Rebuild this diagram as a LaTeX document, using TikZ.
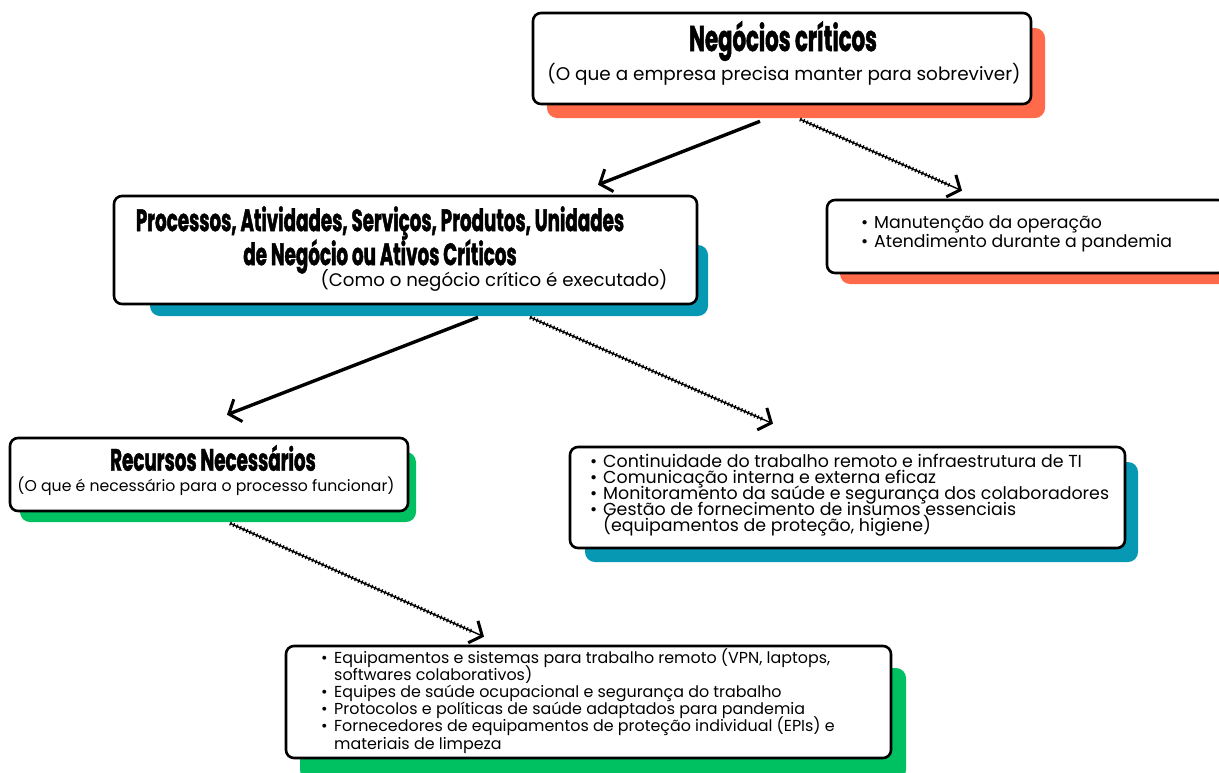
\documentclass[tikz,border=0pt]{standalone}
\usepackage{fontspec}
\setmainfont{Poppins}
\newfontfamily\titlefont{Poppins}[FakeStretch=0.59, FakeBold=1.3]
\usetikzlibrary{arrows.meta}
\definecolor{coral}{HTML}{FF6B4A}
\definecolor{tealblue}{HTML}{0799B4}
\definecolor{leafgreen}{HTML}{00C162}
\newcommand\itemdot{\makebox[13pt][l]{•}}
\newcommand\tightlines{\setlength{\lineskiplimit}{-10pt}\setlength{\lineskip}{0pt}}
\begin{document}
\begin{tikzpicture}[x=1pt,y=-1pt,
  box/.style={draw=black, line width=2.6pt, rounded corners=8pt, fill=white, inner sep=0pt},
  shade/.style={rounded corners=10pt},
  ttl/.style={font=\titlefont\bfseries\fontsize{36}{32}\selectfont, inner sep=0pt, align=center},
  sub/.style={inner sep=0pt},
  lst/.style={inner sep=0pt, align=left, anchor=north west},
  solidarrow/.style={line width=3.4pt, -{Straight Barb[length=10pt,width=24pt,line width=3pt]}},
  tickarrow/.style={line width=1.4pt, -{Straight Barb[length=10pt,width=24pt,line width=3pt]},
    postaction={draw, -, line width=4pt, dash pattern=on 1.2pt off 2.4pt, shorten >=12pt}}
]
\useasboundingbox (0,0) rectangle (1219,772);

% coloured offsets behind the boxes
\fill[coral, shade] (547,28) rectangle (1045,118);
\fill[tealblue, shade] (150,245) rectangle (708,316);
\fill[coral, shade] (840,214) rectangle (1230,284);
\fill[leafgreen, shade] (20,452) rectangle (416,522);
\fill[tealblue, shade] (585,462) rectangle (1138,562);
\fill[leafgreen, shade] (300,668) rectangle (906,780);

% boxes
\node[box, minimum width=498pt, minimum height=91pt] (neg) at (782,58.5) {};
\node[box, minimum width=583pt, minimum height=108pt] (proc) at (405.5,250) {};
\node[box, minimum width=399pt, minimum height=73pt] (man) at (1026.5,236.5) {};
\node[box, minimum width=398pt, minimum height=73pt] (rec) at (209,474.5) {};
\node[box, minimum width=555pt, minimum height=101pt] (cont) at (847.5,497.5) {};
\node[box, minimum width=605pt, minimum height=112pt] (equip) at (588.5,702) {};

% texts
\node[ttl] (negT) at (783,41) {Negócios críticos};
\node[sub, font=\fontsize{18.4}{22}\selectfont] (negS) at (784,74) {(O que a empresa precisa manter para sobreviver)};

\node[ttl, font=\titlefont\bfseries\fontsize{31}{32}\selectfont\tightlines] (procT) at (380,240)
  {Processos, Atividades, Serviços, Produtos, Unidades\\[2pt]de Negócio ou Ativos Críticos};
\node[sub, font=\fontsize{18.2}{22}\selectfont] (procS) at (494,280) {(Como o negócio crítico é executado)};

\node[lst, font=\fontsize{17.3}{19}\selectfont] (manL) at (861,215)
  {\itemdot Manutenção da operação\\\itemdot Atendimento durante a pandemia};

\node[ttl, font=\titlefont\bfseries\fontsize{31}{30}\selectfont] (recT) at (213,458) {Recursos Necessários};
\node[sub, font=\fontsize{15.7}{20}\selectfont] (recS) at (206,486) {(O que é necessário para o processo funcionar)};

\node[lst, font=\fontsize{17.4}{16}\selectfont\tightlines] (contL) at (590,454)
  {\itemdot Continuidade do trabalho remoto e infraestrutura de TI\\
   \itemdot Comunicação interna e externa eficaz\\
   \itemdot Monitoramento da saúde e segurança dos colaboradores\\
   \itemdot Gestão de fornecimento de insumos essenciais\\
   \hspace{13pt}(equipamentos de proteção, higiene)};

\node[lst, font=\fontsize{15.9}{17.2}\selectfont\tightlines] (equipL) at (321,648)
  {\itemdot Equipamentos e sistemas para trabalho remoto (VPN, laptops,\\
   \hspace{13pt}softwares colaborativos)\\
   \itemdot Equipes de saúde ocupacional e segurança do trabalho\\
   \itemdot Protocolos e políticas de saúde adaptados para pandemia\\
   \itemdot Fornecedores de equipamentos de proteção individual (EPIs) e\\
   \hspace{13pt}materiais de limpeza};

% connectors
\draw[solidarrow] ([shift={(-22,16)}]neg.south) -- ([shift={(192.5,-10)}]proc.north);
\draw[tickarrow] ([shift={(18,14)}]neg.south) -- ([shift={(-64.5,-8)}]man.north);
\draw[solidarrow] ([shift={(72.5,12)}]proc.south) -- ([shift={(18,-22)}]rec.north);
\draw[tickarrow] ([shift={(124.5,12)}]proc.south) -- ([shift={(-74.5,-22)}]cont.north);
\draw[tickarrow] ([shift={(21,11)}]rec.south) -- ([shift={(-104.5,-8)}]equip.north);
\end{tikzpicture}
\end{document}
